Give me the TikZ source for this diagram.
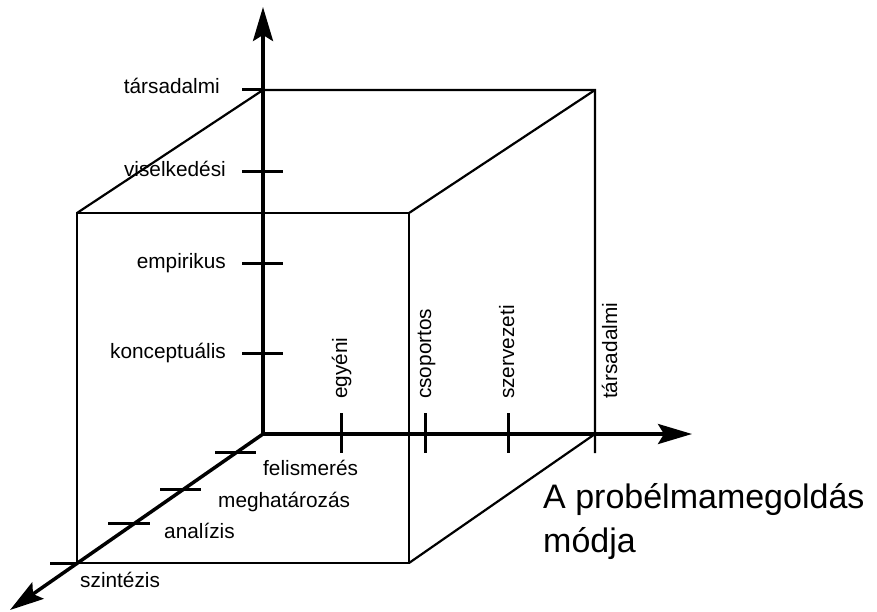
\documentclass[tikz,border=0pt]{standalone}
\usepackage{fontspec}
\setmainfont{Liberation Sans}
\usetikzlibrary{arrows.meta}

\tikzset{
  axis/.style={line width=3.5pt, -{Stealth[length=34pt, width=20pt, inset=6pt]}},
  cubeedge/.style={line width=2.2pt},
  tickmark/.style={line width=3pt},
  lbl/.style={font=\fontsize{20.8}{24}\selectfont, inner sep=0pt},
}

\begin{document}
\begin{tikzpicture}[x=1pt, y=-1pt]
    \useasboundingbox (0,0) rectangle (877,612);

    % Origin and axis ends
    \coordinate (O) at (263,434);
    \coordinate (ytip) at (263,7);
    \coordinate (xtip) at (692,434);
    \coordinate (ztip) at (10,610);

    % Cube corners
    \coordinate (btl) at (263,90);
    \coordinate (btr) at (595,90);
    \coordinate (bbr) at (595,453);
    \coordinate (bxr) at (595,434);
    \coordinate (ftl) at (77,213);
    \coordinate (ftr) at (409,213);
    \coordinate (fbr) at (409,563);
    \coordinate (fbl) at (77,563);

    % Cube edges
    \draw[cubeedge] (ftl) -- (ftr) -- (fbr) -- (fbl) -- cycle;
    \draw[cubeedge] (ftl) -- (btl) -- (btr) -- (bbr);
    \draw[cubeedge] (ftr) -- (btr);
    \draw[cubeedge] (fbr) -- (bxr);

    % Axes
    \draw[axis] (O) -- (ytip);
    \draw[axis] (O) -- (xtip);
    \draw[axis] (O) -- (ztip);

    % Vertical axis: ticks and labels
    \draw[tickmark] (242,90) -- (btl);
    \node[lbl, anchor=base east] (ytarsa) at (220,94) {társadalmi};
    \foreach \yy/\txt/\nm in {172/viselkedési/yvis, 263/empirikus/yemp, 353/konceptuális/ykon} {
        \draw[tickmark] (242,\yy) -- (283,\yy);
        \node[lbl, anchor=base east] (\nm) at (226,\yy+5) {\txt};
    }

    % Horizontal axis: ticks and labels
    \foreach \xx/\txt/\nm in {341/egyéni/xegy, 425/csoportos/xcso, 508/szervezeti/xsze} {
        \draw[tickmark] (\xx,413) -- (\xx,453);
        \node[lbl, rotate=90, anchor=base west] (\nm) at (\xx+6,399) {\txt};
    }
    \node[lbl, rotate=90, anchor=base west] (xtarsa) at (617,399) {társadalmi};

    % Diagonal axis: ticks and labels
    \draw[tickmark] (215,452) -- (256,452);
    \draw[tickmark] (160,489) -- (201,489);
    \draw[tickmark] (108,523) -- (150,523);
    \draw[tickmark] (50,563) -- (fbl);
    \node[lbl, anchor=base west] (zfel) at (263,475) {felismerés};
    \node[lbl, anchor=base west] (zmeg) at (218,507) {meghatározás};
    \node[lbl, anchor=base west] (zana) at (164,538) {analízis};
    \node[lbl, anchor=base west] (zszi) at (80,587) {szintézis};

    % Axis title
    \node[font=\fontsize{34}{44}\selectfont, inner sep=0pt, align=left, anchor=north west] (mode) at (543,483) {A probélmamegoldás\\módja};
\end{tikzpicture}
\end{document}
